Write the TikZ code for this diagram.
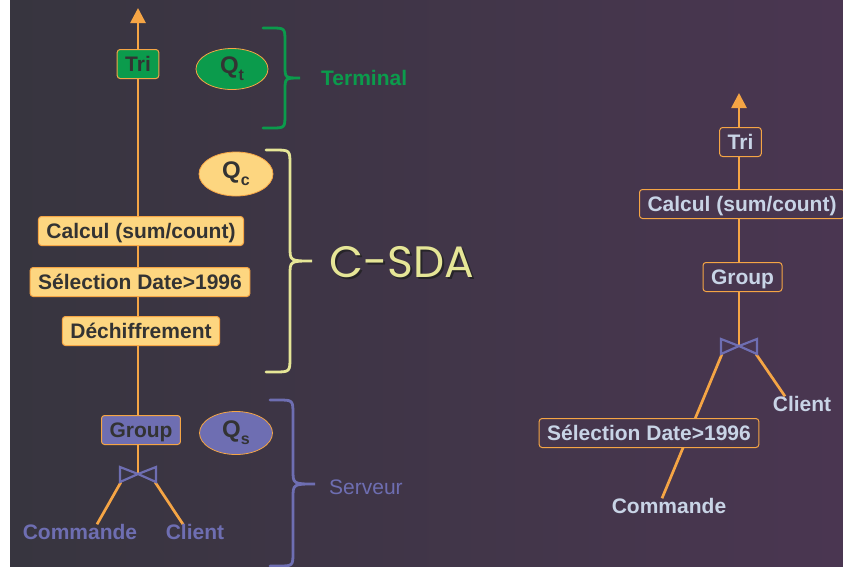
\documentclass[tikz,border=0pt]{standalone}
\usepackage{fontspec}
\setmainfont{Liberation Sans}
\newfontfamily\csdafont{Poppins}
\usetikzlibrary{arrows.meta,shapes.geometric,calc}

\definecolor{bgL}{HTML}{37353F}
\definecolor{bgR}{HTML}{4A3651}
\definecolor{flow}{HTML}{F5A545}
\definecolor{termgreen}{HTML}{0B9B4C}
\definecolor{cfill}{HTML}{FDD680}
\definecolor{srv}{HTML}{6E6EB2}
\definecolor{ink}{HTML}{333333}
\definecolor{pale}{HTML}{C8D4E6}
\definecolor{csda}{HTML}{E6E697}
\definecolor{shadowc}{HTML}{262428}

\pgfdeclarelayer{background}
\pgfsetlayers{background,main}

\tikzset{
  lbl/.style={font=\bfseries\fontsize{21}{21}\selectfont, inner sep=0pt, text height=15pt, text depth=0pt},
  opbox/.style={lbl, draw=flow, line width=1pt, rounded corners=3pt,
    text height=15pt, text depth=0pt, inner xsep=8pt, inner ysep=7pt},
  qnode/.style={ellipse, draw=flow, line width=0.8pt, inner sep=0pt, text=ink,
    font=\bfseries\fontsize{24}{24}\selectfont},
  flowline/.style={draw=flow, line width=2.7pt},
  uptip/.style={-{Triangle[width=15pt,length=15pt]}},
  bracepath/.style={line width=2.8pt, line cap=round},
  pics/bowtie/.style={code={
    \draw[srv, line width=2.2pt] (-18,-7) -- (-18,8) -- (0,0) -- cycle
                               (18,-7) -- (18,8) -- (0,0) -- cycle;
    \coordinate (-c) at (0,0);
    \coordinate (-sw) at (-17,8);
    \coordinate (-se) at (17,8);
  }}
}

\newcommand{\qsub}[2]{#1\raisebox{-7pt}{\fontsize{16}{16}\selectfont #2}}
% text with a dark drop shadow, set as one box
\newcommand{\dropshadowed}[1]{\rlap{\kern2pt\raisebox{-2pt}{\color{shadowc}#1}}#1}

\begin{document}
\begin{tikzpicture}[x=1pt,y=-1pt]
\useasboundingbox (0,0) rectangle (843,566);
\begin{pgfonlayer}{background}
  \fill[white] (0,0) rectangle (10,566);
  \shade[left color=bgL, right color=bgR] (10,0) rectangle (843,566);
\end{pgfonlayer}

% ---------- left plan: terminal / C-SDA / server ----------
\coordinate (topL) at (138,8);
\node[opbox, fill=termgreen, text=ink] (triL) at (138,64) {Tri};
\node[qnode, fill=termgreen, minimum width=72pt, minimum height=41pt] (qt) at (232,69) {\qsub{Q}{t}};

\node[opbox, fill=cfill, text=ink] (calcL) at (141,231) {Calcul (sum/count)};
\node[opbox, fill=cfill, text=ink] (selL) at (140,282) {Sélection Date>1996};
\node[opbox, fill=cfill, text=ink] (dechL) at (141,331) {Déchiffrement};
\node[qnode, fill=cfill, minimum width=74pt, minimum height=44pt] (qc) at (236,174) {\qsub{Q}{c}};

\node[opbox, fill=srv, text=ink] (groupL) at (141,430) {Group};
\node[qnode, fill=srv, minimum width=73pt, minimum height=43pt] (qs) at (236,433) {\qsub{Q}{s}};

\pic (jL) at (138,474) {bowtie};
\node[lbl, text=srv] (cmdL) at (80,532) {Commande};
\node[lbl, text=srv] (cliL) at (195,532) {Client};

\begin{pgfonlayer}{background}
  \draw[flowline, uptip] (jL-c) -- (topL);
  \draw[flowline] (jL-sw) -- ([xshift=17pt]cmdL.north);
  \draw[flowline] (jL-se) -- ([xshift=-12pt]cliL.north);
\end{pgfonlayer}

% braces and their captions
\draw[bracepath, termgreen] (263,28) -- (271,28) .. controls (285,28) .. (285,42) -- (285,66)
  .. controls (285,78) .. (300,78) .. controls (285,78) .. (285,90) -- (285,114)
  .. controls (285,128) .. (271,128) -- (263,128);
\node[lbl, text=termgreen, anchor=west] (term) at (321,78) {Terminal};

\draw[bracepath, csda] (266,150) -- (274,150) .. controls (290,150) .. (290,165) -- (290,247)
  .. controls (290,261) .. (312,261) .. controls (290,261) .. (290,275) -- (290,357)
  .. controls (290,372) .. (274,372) -- (266,372);
\node[font=\csdafont\fontsize{44}{44}\selectfont, text=csda, inner sep=0pt] (csdaL) at (402,263) {\dropshadowed{C-SDA}};

\draw[bracepath, srv] (270,400) -- (278,400) .. controls (293,400) .. (293,415) -- (293,470)
  .. controls (293,484) .. (315,484) .. controls (293,484) .. (293,498) -- (293,552)
  .. controls (293,566) .. (278,566) -- (270,566);
\node[font=\fontsize{21}{21}\selectfont, text=srv, anchor=west, inner sep=0pt] (srvL) at (329,487) {Serveur};

% ---------- right plan ----------
\coordinate (topR) at (739,93);
\node[opbox, fill=bgR!88!bgL, text=pale] (triR) at (740.5,142) {Tri};
\node[opbox, fill=bgR!88!bgL, text=pale] (calcR) at (742,204) {Calcul (sum/count)};
\node[opbox, fill=bgR!88!bgL, text=pale] (groupR) at (742.5,277) {Group};
\pic (jR) at (739,346) {bowtie};
\node[lbl, text=pale] (cmdR) at (669,506) {Commande};
\node[lbl, text=pale] (cliR) at (802,404) {Client};

\begin{pgfonlayer}{background}
  \draw[flowline, uptip] (jR-c) -- (topR);
  \draw[flowline] (jR-sw) -- ([xshift=-7pt]cmdR.north);
  \draw[flowline] (jR-se) -- ([xshift=-17pt]cliR.north);
\end{pgfonlayer}
\node[opbox, fill=bgR!77!bgL, text=pale] (selR) at (649,433) {Sélection Date>1996};
\end{tikzpicture}
\end{document}
